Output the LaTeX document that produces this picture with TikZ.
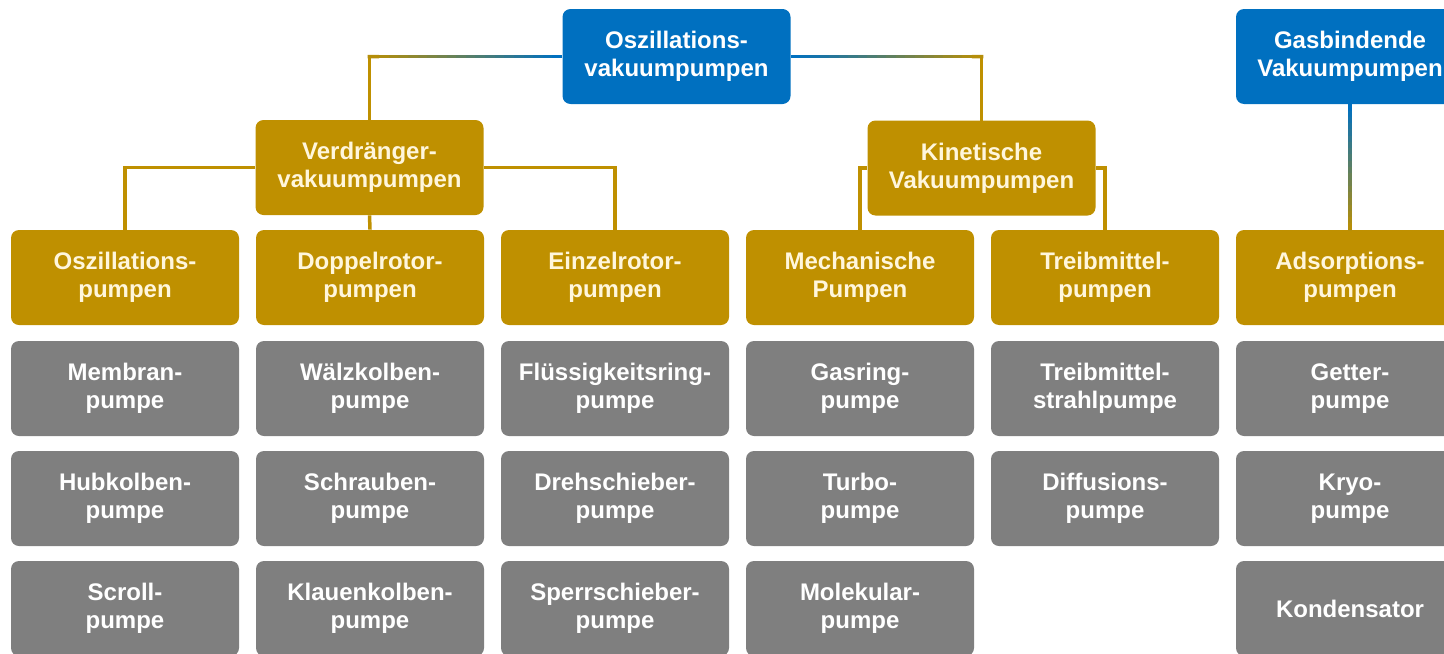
\documentclass[tikz,border=0pt]{standalone}
\usepackage{fontspec}
\setmainfont{Liberation Sans}
\usepackage{tikz}
\usetikzlibrary{positioning,calc}
\definecolor{pumpblue}{HTML}{0070C0}
\definecolor{pumpgold}{HTML}{BF9000}
\definecolor{pumpgrey}{HTML}{7F7F7F}
\definecolor{pumpcream}{HTML}{FFF6DC}

\tikzset{
  box/.style={rounded corners=4pt, minimum width=114pt, minimum height=47.5pt, inner sep=0pt,
              align=center, text=white, font=\bfseries\fontsize{12}{14}\selectfont},
  bluebox/.style={box, fill=pumpblue},
  goldbox/.style={box, fill=pumpgold, text=pumpcream},
  greybox/.style={box, fill=pumpgrey},
  link/.style={line width=1.75pt, draw=pumpgold}
}
% blue to gold connector piece
\newcommand\gradlink[2]{%
  \foreach \i in {0,...,19}{%
    \pgfmathtruncatemacro\p{100-5*\i}
    \draw[link, draw=pumpblue!\p!pumpgold] ($(#1)!\i/20!(#2)$) -- ($(#1)!{(\i+1.2)/20}!(#2)$);
  }}

\begin{document}
\begin{tikzpicture}[x=0.5pt, y=-0.5pt]
  \useasboundingbox (0,0) rectangle (1444,653);
  \clip (0,0) rectangle (1444,653);
  % top level
  \node[bluebox] (oszvak) at (676.5,56.5) {Oszillations-\\vakuumpumpen};
  \node[bluebox] (gasvak) at (1350,56.5) {Gasbindende\\Vakuumpumpen};
  % second level
  \node[goldbox] (verd) at (369.5,167.5) {Verdränger-\\vakuumpumpen};
  \node[goldbox] (kin) at (981.5,168) {Kinetische\\Vakuumpumpen};
  % pump groups
  \node[goldbox] (oszp) at (125,277.5) {Oszillations-\\pumpen};
  \node[goldbox] (dopp) at (370,277.5) {Doppelrotor-\\pumpen};
  \node[goldbox] (einz) at (615,277.5) {Einzelrotor-\\pumpen};
  \node[goldbox] (mech) at (860,277.5) {Mechanische\\Pumpen};
  \node[goldbox] (treib) at (1105,277.5) {Treibmittel-\\pumpen};
  \node[goldbox] (ads) at (1350,277.5) {Adsorptions-\\pumpen};
  % pumps
  \node[greybox] (membran) at (125,388.5) {Membran-\\pumpe};
  \node[greybox] (hubkolben) at (125,498.5) {Hubkolben-\\pumpe};
  \node[greybox] (scroll) at (125,608.5) {Scroll-\\pumpe};
  \node[greybox] (waelz) at (370,388.5) {Wälzkolben-\\pumpe};
  \node[greybox] (schraube) at (370,498.5) {Schrauben-\\pumpe};
  \node[greybox] (klauen) at (370,608.5) {Klauenkolben-\\pumpe};
  \node[greybox] (fluessig) at (615,388.5) {Flüssigkeitsring-\\pumpe};
  \node[greybox] (dreh) at (615,498.5) {Drehschieber-\\pumpe};
  \node[greybox] (sperr) at (615,608.5) {Sperrschieber-\\pumpe};
  \node[greybox] (gasring) at (860,388.5) {Gasring-\\pumpe};
  \node[greybox] (turbo) at (860,498.5) {Turbo-\\pumpe};
  \node[greybox] (molekular) at (860,608.5) {Molekular-\\pumpe};
  \node[greybox] (strahl) at (1105,388.5) {Treibmittel-\\strahlpumpe};
  \node[greybox] (diffusion) at (1105,498.5) {Diffusions-\\pumpe};
  \node[greybox] (getter) at (1350,388.5) {Getter-\\pumpe};
  \node[greybox] (kryo) at (1350,498.5) {Kryo-\\pumpe};
  \node[greybox] (kondensator) at (1350,608.5) {Kondensator};
  % connectors
  \coordinate (cverd) at (verd.north |- oszvak.west);
  \coordinate (ckin) at (kin.north |- oszvak.east);
  \draw[link, line cap=rect] (cverd) -- (verd.north);
  \draw[link, line cap=rect] (ckin) -- (kin.north);
  \gradlink{oszvak.west}{cverd}
  \gradlink{oszvak.east}{ckin}
  \gradlink{gasvak.south}{ads.north}
  \draw[link] (verd.west) -| (oszp.north);
  \draw[link] (verd.south) -- (dopp.north);
  \draw[link] (verd.east) -| (einz.north);
  \draw[link] (kin.west) -| (mech.north);
  \draw[link] (kin.east) -| (treib.north);
\end{tikzpicture}
\end{document}
